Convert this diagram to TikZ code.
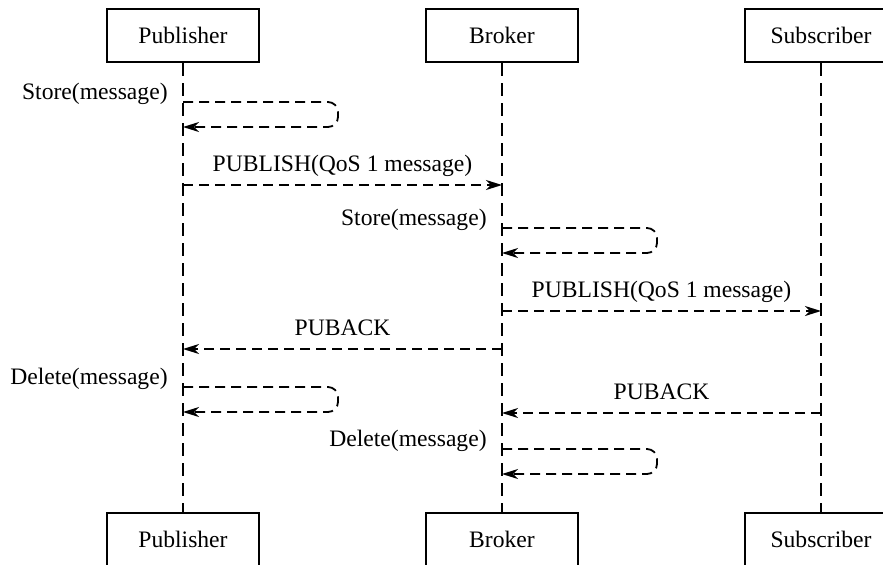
\documentclass[tikz,border=0pt]{standalone}
\usepackage{fontspec}
\setmainfont{Liberation Serif}
\usetikzlibrary{arrows.meta,calc}
\begin{document}
\begin{tikzpicture}[x=0.5pt,y=-0.5pt,>={Stealth[length=8pt,width=5pt,inset=2.5pt]},
  actor/.style={rectangle,draw,line width=1.4pt,minimum width=76pt,minimum height=26.5pt,inner sep=0pt,font=\fontsize{11.8}{14}\selectfont},
  life/.style={line width=0.8pt,dash pattern=on 6.5pt off 3.5pt},
  msg/.style={->,line width=0.9pt,dash pattern=on 5pt off 3pt},
  lbl/.style={inner sep=0pt,font=\fontsize{11.8}{14}\selectfont}]
\useasboundingbox (0,0) rectangle (883,564);
\foreach \n/\x/\t in {P/183/Publisher,B/502/Broker,S/821/Subscriber}{
  \node[actor] (\n top) at (\x,35.5) {\t};
  \node[actor] (\n bot) at (\x,539.5) {\t};
  \draw[life] (\n top.south) -- (\n bot.north);}
% messages between lifelines
\foreach \a/\b/\y/\t in {P/B/185/{PUBLISH(QoS 1 message)},B/S/311/{PUBLISH(QoS 1 message)},B/P/349/PUBACK,S/B/413/PUBACK}{
  \coordinate (\a\y) at (\a top.south |- 0,\y);
  \coordinate (\b\y) at (\b top.south |- 0,\y);
  \draw[msg] (\a\y) -- node[lbl,anchor=base,yshift=7pt] (m\a\y) {\t} (\b\y);}
% self messages
\foreach \a/\y/\t in {P/102/Store(message),B/228/Store(message),P/387/Delete(message),B/449/Delete(message)}{
  \coordinate (s\a\y) at (\a top.south |- 0,\y);
  \coordinate (e\a\y) at ($(s\a\y)+(0,25)$);
  \node[lbl,anchor=base east] (l\a\y) at ($(s\a\y)+(-15,-2.5)$) {\t};
  \draw[msg,rounded corners=5pt] (s\a\y) -| ($(s\a\y)+(155,25)$) -- (e\a\y);}
\end{tikzpicture}
\end{document}
